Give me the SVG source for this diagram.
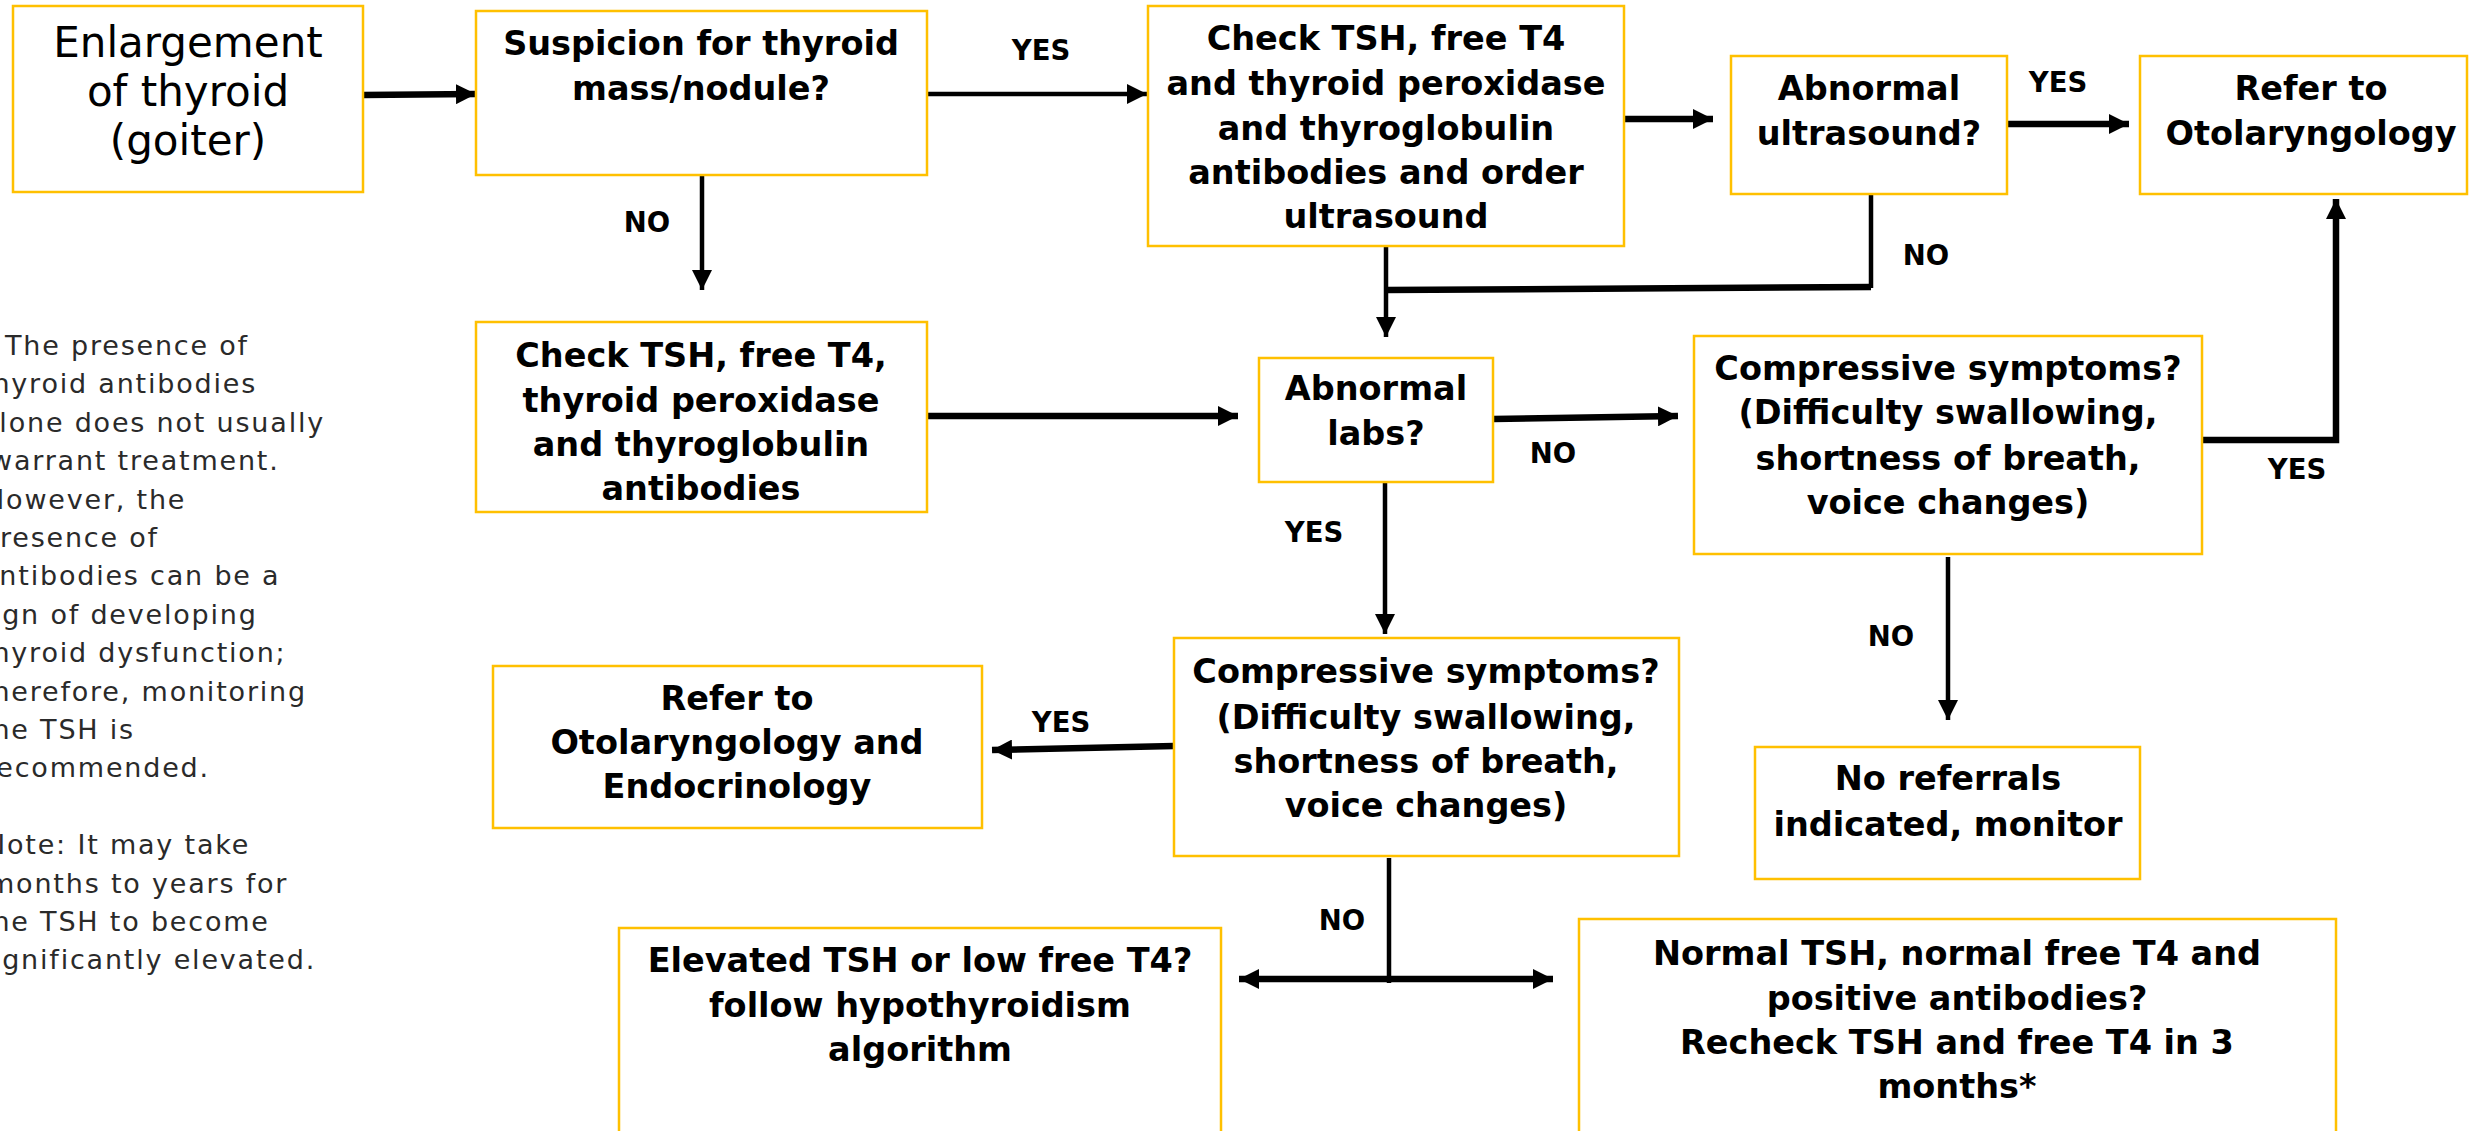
<svg xmlns="http://www.w3.org/2000/svg" width="2470" height="1131" viewBox="0 0 2470 1131">
<defs>
<style>
.box{fill:#fff;stroke:#FFC000;stroke-width:2.5}
.t{font-family:"DejaVu Sans","Liberation Sans",sans-serif;font-weight:bold;font-size:33.5px;fill:#000;text-anchor:middle}
.t1{font-family:"DejaVu Sans","Liberation Sans",sans-serif;font-weight:normal;font-size:42px;fill:#000;text-anchor:middle}
.lbl{font-family:"DejaVu Sans","Liberation Sans",sans-serif;font-weight:bold;font-size:27.5px;fill:#000;text-anchor:middle}
.note{font-family:"DejaVu Sans","Liberation Sans",sans-serif;font-weight:normal;font-size:27px;letter-spacing:1.8px;fill:#2a2a2a}
.thick{stroke:#000;stroke-width:6.5;fill:none}
.thin{stroke:#000;stroke-width:4.5;fill:none}
</style>
<marker id="ah" viewBox="0 0 20 20" refX="20" refY="10" markerWidth="20" markerHeight="20" markerUnits="userSpaceOnUse" orient="auto-start-reverse">
<path d="M0,0 L20,10 L0,20 z" fill="#000"/>
</marker>
</defs>
<rect width="2470" height="1131" fill="#fff"/>

<g id="note">
<text class="note" x="5" y="355">The presence of</text>
<text class="note" x="-20" y="393.4">thyroid antibodies</text>
<text class="note" x="-19" y="431.8">alone does not usually</text>
<text class="note" x="-10" y="470.2">warrant treatment.</text>
<text class="note" x="-16" y="508.6">However, the</text>
<text class="note" x="-19" y="547">presence of</text>
<text class="note" x="-19" y="585.4">antibodies can be a</text>
<text class="note" x="-23" y="623.8">sign of developing</text>
<text class="note" x="-20" y="662.2">thyroid dysfunction;</text>
<text class="note" x="-20" y="700.6">therefore, monitoring</text>
<text class="note" x="-20" y="739">the TSH is</text>
<text class="note" x="-16" y="777.4">recommended.</text>
<text class="note" x="-15" y="854.2">Note: It may take</text>
<text class="note" x="-12" y="892.6">months to years for</text>
<text class="note" x="-20" y="931">the TSH to become</text>
<text class="note" x="-23" y="969.4">significantly elevated.</text>
</g>

<g id="connectors">
<path class="thick" d="M363,95 L476,94" marker-end="url(#ah)"/>
<path class="thin" d="M927,94 L1147,94" marker-end="url(#ah)"/>
<path class="thin" d="M702,175 L702,290" marker-end="url(#ah)"/>
<path class="thick" d="M1624,119 L1713,119" marker-end="url(#ah)"/>
<path class="thick" d="M2007,124 L2129,124" marker-end="url(#ah)"/>
<path class="thin" d="M1871,194 L1871,288"/>
<path class="thick" d="M1871,287 L1386,290"/>
<path class="thin" d="M1386,246 L1386,337" marker-end="url(#ah)"/>
<path class="thick" d="M927,416 L1238,416" marker-end="url(#ah)"/>
<path class="thick" d="M1493,419 L1678,416" marker-end="url(#ah)"/>
<path class="thick" d="M2202,440 L2336,440 L2336,199" marker-end="url(#ah)"/>
<path class="thin" d="M1385,483 L1385,634" marker-end="url(#ah)"/>
<path class="thin" d="M1948,557 L1948,720" marker-end="url(#ah)"/>
<path class="thick" d="M1174,746 L992,750" marker-end="url(#ah)"/>
<path class="thin" d="M1389,858 L1389,983"/>
<path class="thick" d="M1239,979 L1553,979" marker-start="url(#ah)" marker-end="url(#ah)"/>
<text class="lbl" x="647" y="232">NO</text>
<text class="lbl" x="1041" y="60">YES</text>
<text class="lbl" x="2058" y="92">YES</text>
<text class="lbl" x="1926" y="265">NO</text>
<text class="lbl" x="1553" y="463">NO</text>
<text class="lbl" x="2297" y="479">YES</text>
<text class="lbl" x="1314" y="542">YES</text>
<text class="lbl" x="1891" y="646">NO</text>
<text class="lbl" x="1061" y="732">YES</text>
<text class="lbl" x="1342" y="930">NO</text>
</g>

<g id="n1">
<rect class="box" x="13" y="6" width="350" height="186"/>
<text class="t1" x="188" y="57">Enlargement</text>
<text class="t1" x="188" y="106">of thyroid</text>
<text class="t1" x="188" y="155">(goiter)</text>
</g>
<g id="n2">
<rect class="box" x="476" y="11" width="451" height="164"/>
<text class="t" x="701" y="55">Suspicion for thyroid</text>
<text class="t" x="701" y="100">mass/nodule?</text>
</g>
<g id="n3">
<rect class="box" x="1148" y="6" width="476" height="240"/>
<text class="t" x="1386" y="50">Check TSH, free T4</text>
<text class="t" x="1386" y="95">and thyroid peroxidase</text>
<text class="t" x="1386" y="140">and thyroglobulin</text>
<text class="t" x="1386" y="184">antibodies and order</text>
<text class="t" x="1386" y="228">ultrasound</text>
</g>
<g id="n4">
<rect class="box" x="1731" y="56" width="276" height="138"/>
<text class="t" x="1869" y="100">Abnormal</text>
<text class="t" x="1869" y="145">ultrasound?</text>
</g>
<g id="n5">
<rect class="box" x="2140" y="56" width="327" height="138"/>
<text class="t" x="2311" y="100">Refer to</text>
<text class="t" x="2311" y="145">Otolaryngology</text>
</g>
<g id="n6">
<rect class="box" x="476" y="322" width="451" height="190"/>
<text class="t" x="701" y="367">Check TSH, free T4,</text>
<text class="t" x="701" y="412">thyroid peroxidase</text>
<text class="t" x="701" y="456">and thyroglobulin</text>
<text class="t" x="701" y="500">antibodies</text>
</g>
<g id="n7">
<rect class="box" x="1259" y="358" width="234" height="124"/>
<text class="t" x="1376" y="400">Abnormal</text>
<text class="t" x="1376" y="445">labs?</text>
</g>
<g id="n8">
<rect class="box" x="1694" y="336" width="508" height="218"/>
<text class="t" x="1948" y="380">Compressive symptoms?</text>
<text class="t" x="1948" y="424">(Difficulty swallowing,</text>
<text class="t" x="1948" y="470">shortness of breath,</text>
<text class="t" x="1948" y="514">voice changes)</text>
</g>
<g id="n9">
<rect class="box" x="1174" y="638" width="505" height="218"/>
<text class="t" x="1426" y="683">Compressive symptoms?</text>
<text class="t" x="1426" y="729">(Difficulty swallowing,</text>
<text class="t" x="1426" y="773">shortness of breath,</text>
<text class="t" x="1426" y="817">voice changes)</text>
</g>
<g id="n10">
<rect class="box" x="493" y="666" width="489" height="162"/>
<text class="t" x="737" y="710">Refer to</text>
<text class="t" x="737" y="754">Otolaryngology and</text>
<text class="t" x="737" y="798">Endocrinology</text>
</g>
<g id="n11">
<rect class="box" x="1755" y="747" width="385" height="132"/>
<text class="t" x="1948" y="790">No referrals</text>
<text class="t" x="1948" y="836">indicated, monitor</text>
</g>
<g id="n12">
<rect class="box" x="619" y="928" width="602" height="220"/>
<text class="t" x="920" y="972">Elevated TSH or low free T4?</text>
<text class="t" x="920" y="1017">follow hypothyroidism</text>
<text class="t" x="920" y="1061">algorithm</text>
</g>
<g id="n13">
<rect class="box" x="1579" y="919" width="757" height="230"/>
<text class="t" x="1957" y="965">Normal TSH, normal free T4 and</text>
<text class="t" x="1957" y="1010">positive antibodies?</text>
<text class="t" x="1957" y="1054">Recheck TSH and free T4 in 3</text>
<text class="t" x="1957" y="1098">months*</text>
</g>
</svg>
